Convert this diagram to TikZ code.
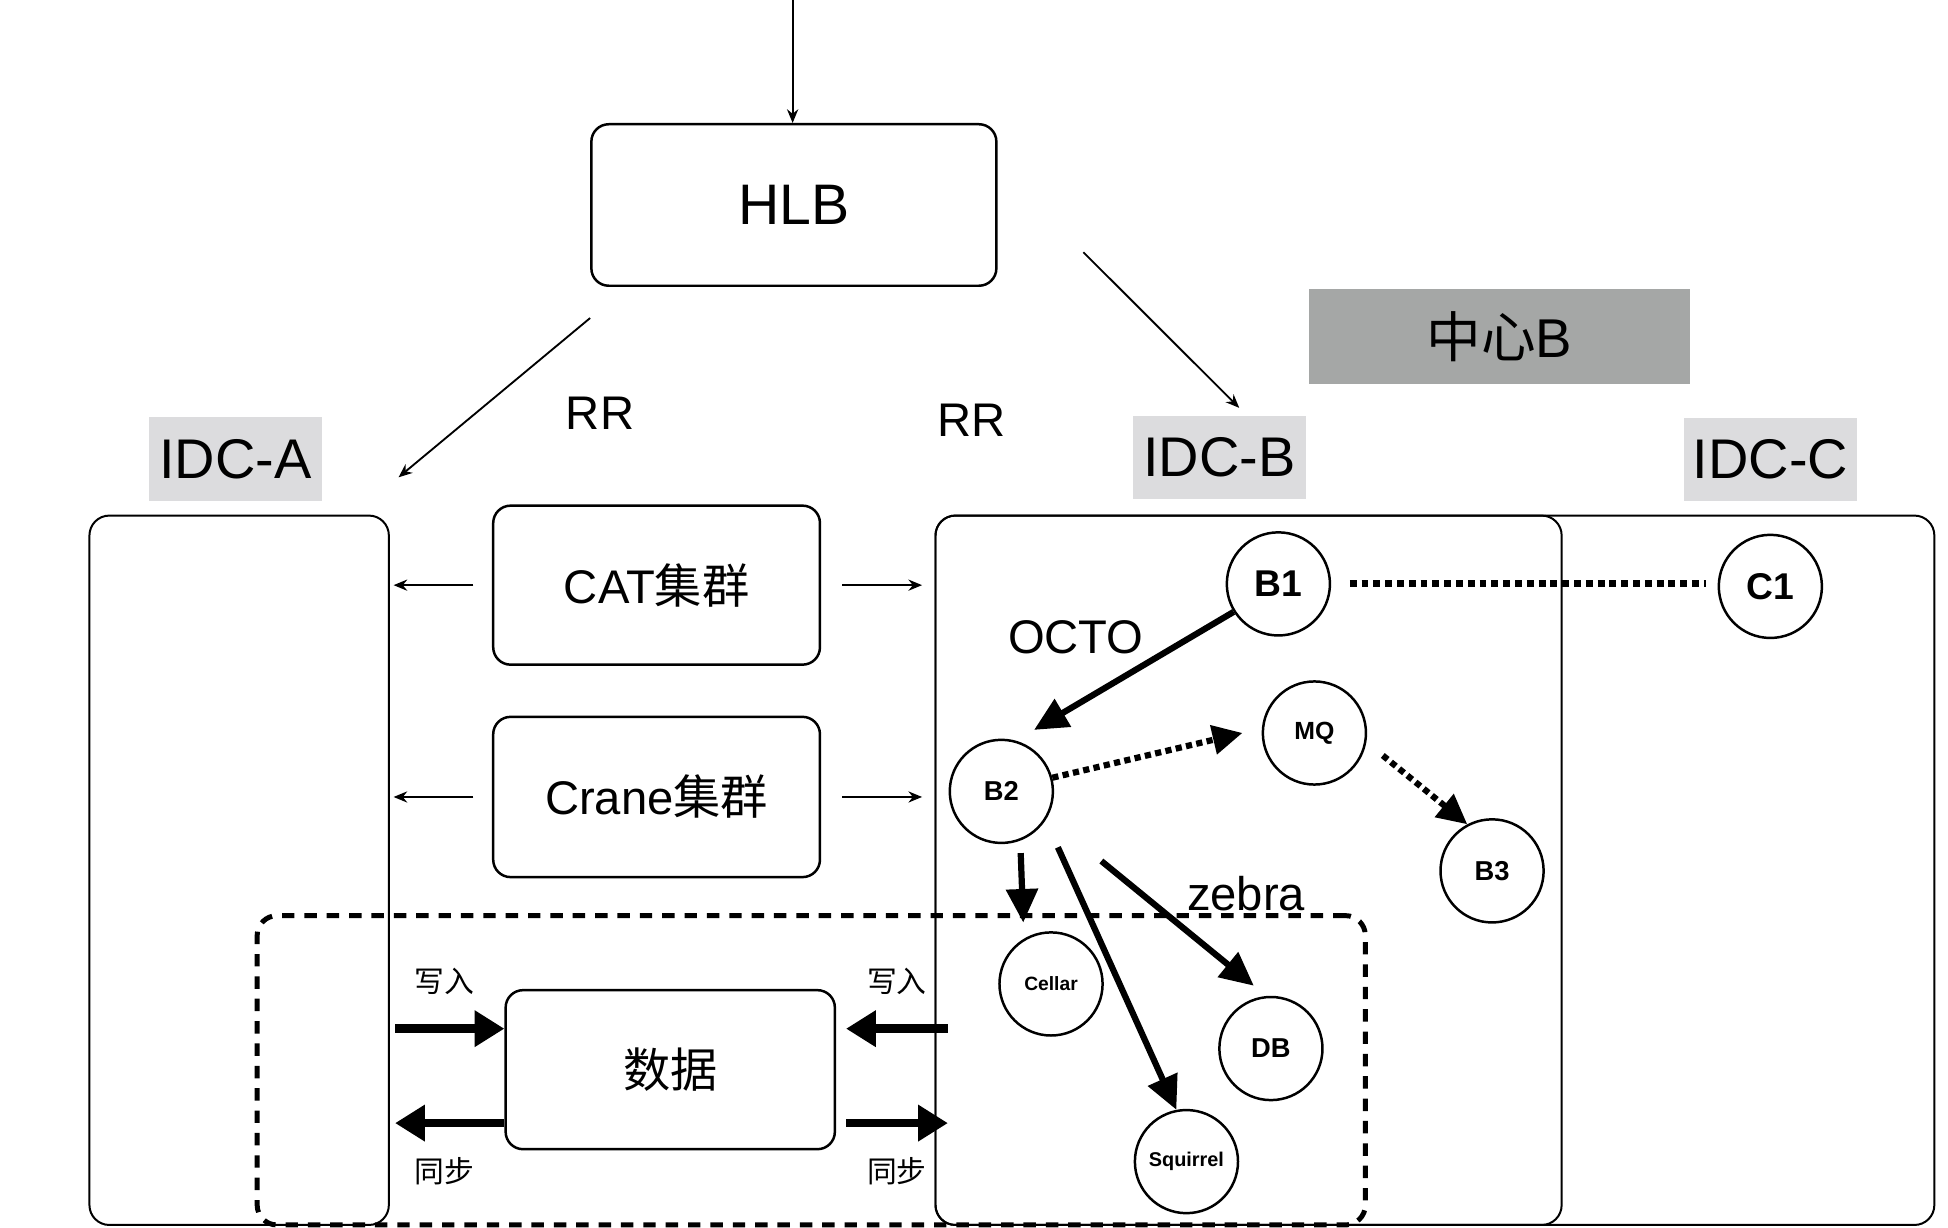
\documentclass[tikz,border=0pt]{standalone}
\usepackage{fontspec}
\setmainfont{Liberation Sans}
\newfontfamily\cjk{Noto Sans CJK SC}
\usetikzlibrary{arrows.meta}
\newcommand{\fsz}[1]{\fontsize{#1}{#1}\selectfont}
\definecolor{tagfill}{RGB}{220,220,222}
\definecolor{hubfill}{RGB}{165,167,166}

\begin{document}
\begin{tikzpicture}[x=1pt,y=-1pt]
\tikzstyle{box}=[draw,line width=2pt,rounded corners=14pt,inner sep=0pt,minimum width=263pt,minimum height=128pt,font=\fsz{38}]
\tikzstyle{idc}=[draw,line width=1.6pt,rounded corners=16pt,inner sep=0pt,minimum height=571pt]
\tikzstyle{tag}=[fill=tagfill,inner sep=0pt,minimum width=139pt,minimum height=67pt,font=\fsz{45}]
\tikzstyle{svc}=[draw,circle,line width=2pt,fill=white,minimum size=83pt,inner sep=0pt,font=\bfseries\fsz{22}]
\tikzstyle{word}=[inner sep=0pt,font=\fsz{38}]
\tikzstyle{note}=[inner sep=0pt,font=\cjk\fsz{24}]
\tikzstyle{slim}=[-{Stealth[length=11pt,width=9pt]},line width=1.5pt]
\tikzstyle{heavy}=[-{Triangle[length=27pt,width=25pt]},line width=5pt]
\tikzstyle{dotarrow}=[-{Triangle[length=24pt,width=23pt]},line width=5pt,dash pattern=on 5pt off 3.5pt]
\tikzstyle{dotline}=[line width=5.5pt,dash pattern=on 5.5pt off 4pt]
\tikzstyle{fat}=[-{Triangle[length=24pt,width=28pt]},line width=7pt]
\useasboundingbox (0,0) rectangle (1568,988);

\node[idc,minimum width=804pt] (idcC) at (1155,700.5) {};
\node[idc,minimum width=504pt] (idcB) at (1005,700.5) {};
\node[idc,minimum width=241pt] (idcA) at (192.5,700.5) {};
\node[draw,line width=4pt,dash pattern=on 10pt off 8pt,rounded corners=16pt,minimum width=892pt,minimum height=249pt] (zone) at (653,861.5) {};

\node[tag] (tagA) at (189.5,369.5) {IDC-A};
\node[tag] (tagB) at (981.5,368) {IDC-B};
\node[tag] (tagC) at (1425,370) {IDC-C};
\node[fill=hubfill,inner sep=0pt,minimum width=306pt,minimum height=76pt,font=\fsz{44}] (hub) at (1207,271) {{\cjk 中心}B};

\node[box,minimum width=326pt,minimum height=130pt,font=\fsz{46}] (hlb) at (639,165) {HLB};
\node[box] (cat) at (528.5,471) {CAT{\cjk 集群}};
\node[box,minimum height=129pt] (crane) at (528.5,641.5) {Crane{\cjk 集群}};
\node[box,minimum width=265pt,font=\cjk\fsz{38}] (data) at (539.5,861) {数据};

\node[word] (rrA) at (483,333) {RR};
\node[word] (rrB) at (782,338) {RR};
\node[word] (octo) at (866,513) {OCTO};
\node[word] (zebra) at (1003,719) {zebra};

\node[svc,font=\bfseries\fsz{30}] (B1) at (1029,470) {B1};
\node[svc,font=\bfseries\fsz{30}] (C1) at (1425,472) {C1};
\node[svc] (B2) at (806,637) {B2};
\node[svc,font=\bfseries\fsz{20}] (MQ) at (1058,590) {MQ};
\node[svc] (B3) at (1201,701) {B3};
\node[svc,font=\bfseries\fsz{15.5}] (cellar) at (846,792) {Cellar};
\node[svc] (DB) at (1023,844) {DB};
\node[svc,font=\bfseries\fsz{16}] (squirrel) at (955,935) {Squirrel};

\coordinate (top) at (638,0);
\draw[slim] (top) -- (top |- hlb.north);
\draw[slim] ([shift={(0,25)}]hlb.south west) -- ([shift={(7,-30)}]idcA.north east);
\draw[slim] ([shift={(69,-28)}]hlb.south east) -- ([shift={(16,-6)}]tagB.north);

\draw[slim] ([xshift=-15pt]cat.west) -- ([xshift=3pt]cat.west -| idcA.east);
\draw[slim] ([xshift=17pt]cat.east) -- ([xshift=-10pt]cat.east -| idcB.west);
\draw[slim] ([xshift=-15pt]crane.west) -- ([xshift=3pt]crane.west -| idcA.east);
\draw[slim] ([xshift=17pt]crane.east) -- ([xshift=-10pt]crane.east -| idcB.west);

\draw[dotline,shorten <=15pt,shorten >=9pt] (B1.east) -- (B1.east -| C1.west);
\draw[heavy,shorten >=17pt] (B1.212) -- (B2.74);
\draw[dotarrow,shorten >=16pt] (B2.15) -- (MQ.175);
\draw[dotarrow,shorten <=17pt] (MQ.350) -- (B3.118);
\draw[heavy,shorten <=10pt,shorten >=13pt] (B2.291) -- (cellar.121);
\draw[heavy,shorten <=24pt] (B2.327) -- (squirrel.101);
\draw[heavy,shorten <=56pt,shorten >=13pt] (B2.331) -- (DB.95);

\coordinate (inA) at (318,828);
\coordinate (syA) at (318,904);
\coordinate (inB) at (763,828);
\coordinate (syB) at (763,904);
\draw[fat] (inA) -- (inA -| data.west);
\draw[fat] (syA -| data.west) -- (syA);
\draw[fat] (inB) -- ([xshift=8pt]inB -| data.east);
\draw[fat] ([xshift=8pt]syB -| data.east) -- (syB);
\node[note] (inAtxt) at (358,790) {写入};
\node[note] (syAtxt) at (358,943) {同步};
\node[note] (inBtxt) at (722,790) {写入};
\node[note] (syBtxt) at (722,943) {同步};
\end{tikzpicture}
\end{document}
